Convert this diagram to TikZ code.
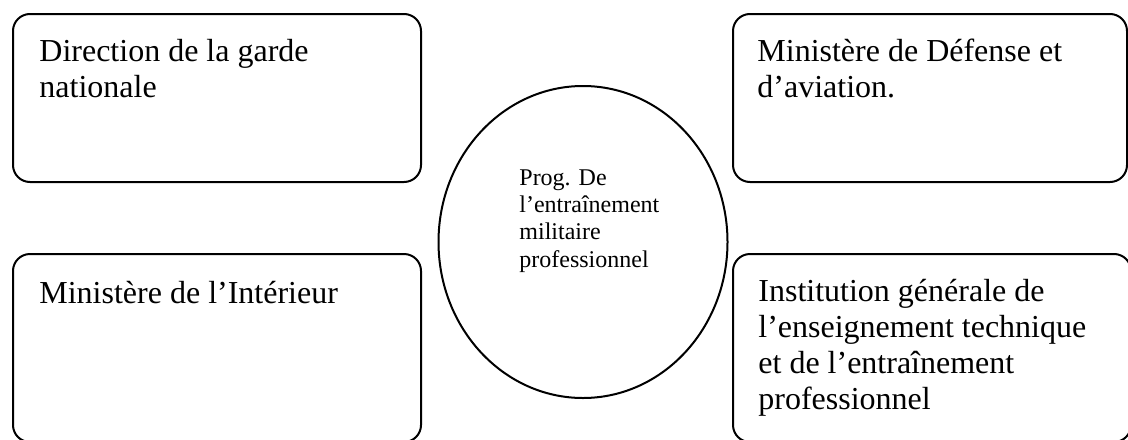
\documentclass[tikz,border=0pt]{standalone}
\usepackage{fontspec}
\setmainfont{Liberation Serif}
\usetikzlibrary{shapes.geometric}

\begin{document}
\begin{tikzpicture}[x=0.5pt, y=-0.5pt,
		bloc/.style={draw, line width=1pt, rounded corners=8.5pt, rectangle},
		grand/.style={font=\fontsize{16}{18}\selectfont, align=left, anchor=base west, inner sep=0pt},
		petit/.style={font=\fontsize{12}{13.65}\selectfont, align=left, anchor=base west, inner sep=0pt}]
		\useasboundingbox (0,0) rectangle (1128,439);

		\node [bloc, minimum width=204pt, minimum height=84pt] (garde) at (217,98) {};
		\node [bloc, minimum width=204pt, minimum height=94pt] (interieur) at (217,348) {};
		\node [bloc, minimum width=197pt, minimum height=84pt] (defense) at (930,98) {};
		\node [bloc, minimum width=199pt, minimum height=94pt] (institution) at (932,348) {};

		\node [draw, line width=1pt, ellipse, minimum width=144.5pt, minimum height=156pt] (prog) at (583,242) {};

		\node [grand] (gardetxt) at (39,97) {Direction de la garde\\nationale};
		\node [grand] (interieurtxt) at (39,303) {Ministère de l’Intérieur};
		\node [grand] (defensetxt) at (757,97) {Ministère de Défense et\\d’aviation.};
		\node [grand] (institutiontxt) at (758,409) {Institution générale de\\l’enseignement technique\\et de l’entraînement\\professionnel};
		\node [petit] (progtxt) at (519,267) {Prog. De\\l’entraînement\\militaire\\professionnel};
	\end{tikzpicture}
\end{document}
